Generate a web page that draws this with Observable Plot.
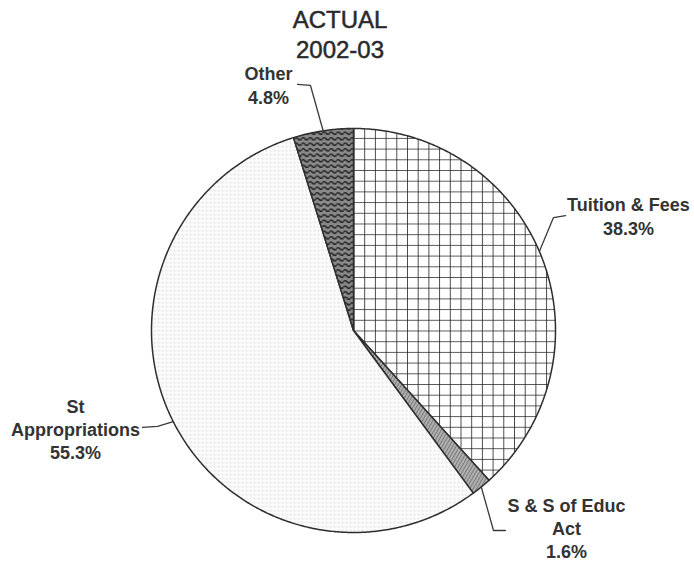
<!DOCTYPE html>
<html>
<head>
<meta charset="utf-8">
<script src="https://cdn.jsdelivr.net/npm/d3@7"></script>
<script src="https://cdn.jsdelivr.net/npm/@observablehq/plot@0.6"></script>
<style>
  body { margin: 0; background: #fff; font-family: "Liberation Sans", Arial, sans-serif; }
  #title { width: 680px; height: 64px; text-align: center; font-size: 24px; line-height: 30px;
           padding-top: 5px; box-sizing: border-box; color: #2a2a2a; -webkit-text-stroke: 0.5px #2a2a2a; }
</style>
</head>
<body>
<div id="title">ACTUAL<br>2002-03</div>
<div id="chart"></div>
<script>
// ---- data ----
const categories = ["Tuition & Fees", "S & S of Educ Act", "St Appropriations", "Other"];
const shares = [38.3, 1.6, 55.3, 4.8];
const labelText = ["Tuition & Fees", "S & S of Educ\nAct", "St\nAppropriations", "Other"];
const pctText = ["38.3%", "1.6%", "55.3%", "4.8%"];
const patternIds = ["grid", "hatch", "dots", "wave"];

// ---- layout (in pie-radius units, centre = 0,0, y up) ----
const leaderAngleOffset = [-2, 0, 0, 0]; // degrees added to slice mid-angle
const leaderElbow = [[0.990, 0.559], [0.693, -0.990], [-0.970, -0.475], [-0.213, 1.213]];
const leaderEnd   = [[1.050, 0.569], [0.752, -0.990], [-1.045, -0.480], [-0.277, 1.218]];
const labelPos    = [[1.361, 0.569], [1.054, -0.975], [-1.376, -0.485], [-0.421, 1.218]];

const arcs = d3.pie().sort(null).value(d => d)(shares);
const pt = a => [Math.sin(a), Math.cos(a)];

const slices = arcs.map((a, i) => {
  const n = Math.max(8, Math.ceil((a.endAngle - a.startAngle) / (Math.PI / 360)));
  const ring = [[0, 0]];
  for (let k = 0; k <= n; k++) ring.push(pt(a.startAngle + (a.endAngle - a.startAngle) * k / n));
  ring.push([0, 0]);
  return {type: "Feature", properties: {name: categories[i], fill: `url(#${patternIds[i]})`},
          geometry: {type: "Polygon", coordinates: [ring]}};
});

const leaders = [];
arcs.forEach((a, i) => {
  const mid = (a.startAngle + a.endAngle) / 2 + leaderAngleOffset[i] * Math.PI / 180;
  const s = pt(mid);
  [s, leaderElbow[i], leaderEnd[i]].forEach(p => leaders.push({k: i, x: p[0], y: p[1]}));
});

const labels = categories.map((c, i) => ({x: labelPos[i][0], y: labelPos[i][1], text: labelText[i] + "\n" + pctText[i]}));

const svg = Plot.plot({
  width: 694,
  height: 500,
  marginLeft: 151,
  marginRight: 139,
  marginTop: 64,
  marginBottom: 32,
  projection: {type: "reflect-y", clip: false, domain: {type: "MultiPoint", coordinates: [[-1, -1], [1, 1]]}},
  color: {type: "identity"},
  marks: [
    Plot.geo(slices, {fill: d => d.properties.fill, stroke: "#2e2e2e", strokeWidth: 1.5}),
    Plot.line(leaders, {x: "x", y: "y", z: "k", stroke: "#3a3a3a", strokeWidth: 1.3}),
    Plot.text(labels, {x: "x", y: "y", text: "text", fontSize: 18, fontWeight: "bold",
      fill: "#333", lineHeight: 1.3, textAnchor: "middle", fontFamily: "Liberation Sans, Arial, sans-serif"})
  ]
});

// patterns
const s = d3.select(svg);
const defs = s.insert("defs", ":first-child");
const cx = 353, cy = 266;
let p = defs.append("pattern").attr("id", "grid").attr("patternUnits", "userSpaceOnUse")
  .attr("x", cx).attr("y", cy).attr("width", 10.7).attr("height", 10.7);
p.append("rect").attr("width", 10.7).attr("height", 10.7).attr("fill", "#fff");
p.append("path").attr("d", "M0 0H10.7M0 0V10.7").attr("stroke", "#222").attr("stroke-width", 1.6);

p = defs.append("pattern").attr("id", "dots").attr("patternUnits", "userSpaceOnUse")
  .attr("width", 4).attr("height", 4);
p.append("rect").attr("width", 4).attr("height", 4).attr("fill", "#fcfcfc");
p.append("circle").attr("cx", 2).attr("cy", 2).attr("r", 0.6).attr("fill", "#a5a5a5");

p = defs.append("pattern").attr("id", "wave").attr("patternUnits", "userSpaceOnUse")
  .attr("width", 7).attr("height", 5.5);
p.append("rect").attr("width", 7).attr("height", 5.5).attr("fill", "#8a8a8a");
p.append("path").attr("d", "M0 2.75Q1.75 0.5 3.5 2.75T7 2.75").attr("fill", "none")
  .attr("stroke", "#1c1c1c").attr("stroke-width", 1.5);

p = defs.append("pattern").attr("id", "hatch").attr("patternUnits", "userSpaceOnUse")
  .attr("width", 3).attr("height", 3).attr("patternTransform", "rotate(30)");
p.append("rect").attr("width", 3).attr("height", 3).attr("fill", "#b0b0b0");
p.append("line").attr("x1", 0).attr("y1", 0).attr("x2", 0).attr("y2", 3)
  .attr("stroke", "#444").attr("stroke-width", 1);

document.getElementById("chart").appendChild(svg);
</script>
</body>
</html>
